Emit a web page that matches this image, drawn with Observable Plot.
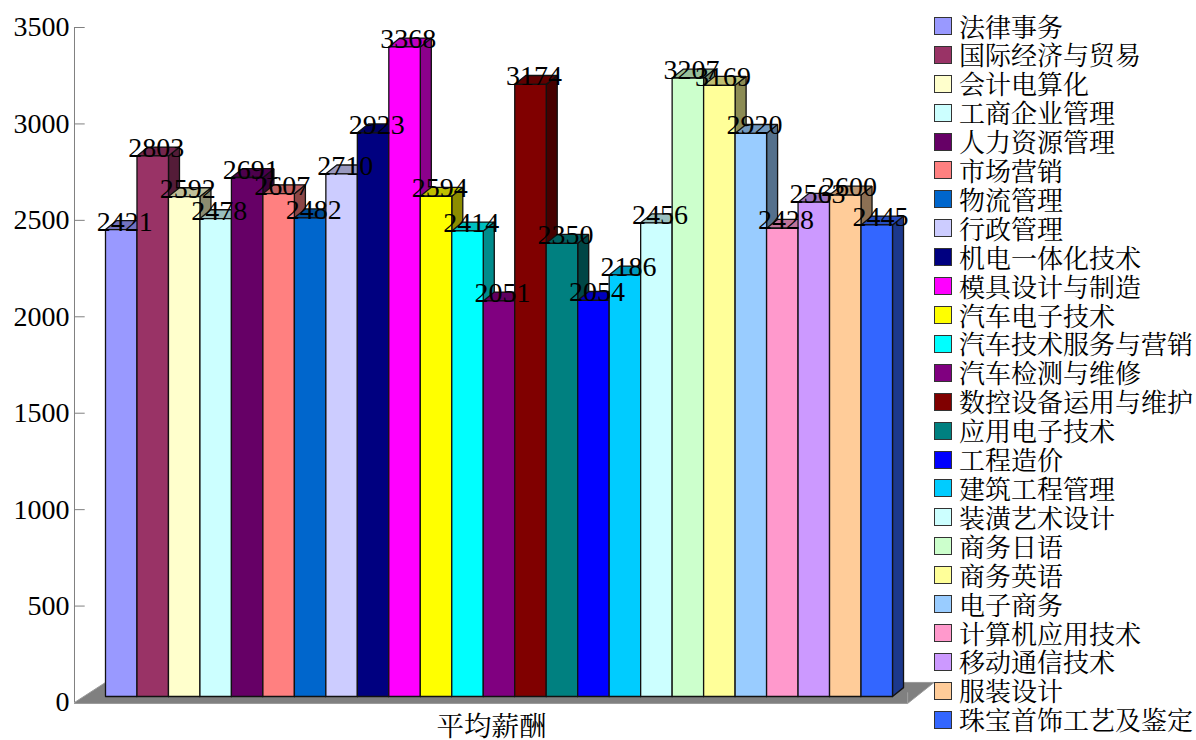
<!DOCTYPE html>
<html>
<head>
<meta charset="utf-8">
<script src="https://cdn.jsdelivr.net/npm/d3@7"></script>
<script src="https://cdn.jsdelivr.net/npm/@observablehq/plot@0.6"></script>
<style>
html,body{margin:0;padding:0;background:#fff;}
#wrap{position:relative;width:1196px;height:740px;overflow:hidden;}
#legend{position:absolute;left:934px;top:11.5px;font-family:"Noto Serif CJK SC","Noto Sans CJK SC",sans-serif;font-size:26px;color:#000;}
.row{display:flex;align-items:center;height:28.92px;white-space:nowrap;line-height:28.92px;}
.sw{width:16px;height:16px;border:1px solid #333;margin-right:7px;flex:none;}
</style>
</head>
<body>
<div id="wrap"><div id="chart"></div><div id="legend"></div></div>
<script>
const categories = ["法律事务","国际经济与贸易","会计电算化","工商企业管理","人力资源管理","市场营销","物流管理","行政管理","机电一体化技术","模具设计与制造","汽车电子技术","汽车技术服务与营销","汽车检测与维修","数控设备运用与维护","应用电子技术","工程造价","建筑工程管理","装潢艺术设计","商务日语","商务英语","电子商务","计算机应用技术","移动通信技术","服装设计","珠宝首饰工艺及鉴定"];
const values = [2421,2803,2592,2478,2691,2607,2482,2710,2923,3368,2594,2414,2051,3174,2350,2054,2186,2456,3207,3169,2920,2428,2563,2600,2445];
const colors = ["#9999ff","#993366","#ffffcc","#ccffff","#660066","#ff8080","#0066cc","#ccccff","#000080","#ff00ff","#ffff00","#00ffff","#800080","#800000","#008080","#0000ff","#00ccff","#ccffff","#ccffcc","#ffff99","#99ccff","#ff99cc","#cc99ff","#ffcc99","#3366ff"];
const yTicks = [0,500,1000,1500,2000,2500,3000,3500];
const xTitle = "平均薪酬";

// depth of the pseudo-3D extrusion, in data units
const depthX = 0.35, depthY = 46;
const axisX = -0.985;
const shade = (c,k)=>{const r=d3.rgb(c);return d3.rgb(r.r*k,r.g*k,r.b*k).formatHex();};

const faces = [];
const poly = (id,fill,pts)=>pts.concat([pts[0]]).forEach(([x,y])=>faces.push({id,fill,x,y}));
values.forEach((v,i)=>{
  const c = colors[i], d = depthX, h = depthY;
  poly(`s${i}`,shade(c,.55),[[i+1,0],[i+1+d,h],[i+1+d,v+h],[i+1,v]]);
  poly(`t${i}`,shade(c,.75),[[i,v],[i+d,v+h],[i+1+d,v+h],[i+1,v]]);
  poly(`f${i}`,c,[[i,0],[i+1,0],[i+1,v],[i,v]]);
});
const floor = [[axisX,-5],[axisX,0],[0,104],[26.32,104],[25.48,-5],[axisX,-5]].map(([x,y])=>({x,y}));
const labels = values.map((v,i)=>({x:i+.5+depthX/2-.06,y:v,t:String(v)}));

const chart = Plot.plot({
  width:1196,height:740,marginLeft:74,marginTop:27,marginBottom:38,marginRight:263,
  style:{background:"#fff",overflow:"visible"},
  x:{domain:[0,25],range:[105,892],axis:null},
  y:{domain:[0,3500],range:[702,27],axis:null},
  color:{type:"identity"},
  marks:[
    Plot.line(floor,{x:"x",y:"y",fill:"#808080",stroke:"#9a9a9a",strokeWidth:1}),
    Plot.ruleX([25.48],{y1:-5,y2:50,stroke:"#a0a0a0",strokeWidth:1}),
    Plot.ruleX([axisX],{y1:0,y2:3500,stroke:"#808080",strokeWidth:1}),
    Plot.ruleY(yTicks.slice(1),{x1:axisX,x2:axisX+.34,stroke:"#808080",strokeWidth:1}),
    Plot.axisY({ticks:yTicks,tickSize:0,tickPadding:5,tickFormat:d3.format("d"),label:null,fontSize:28,fontFamily:"'Liberation Serif',serif",color:"#000",fill:"#000"}),
    Plot.line(faces,{x:"x",y:"y",z:"id",fill:"fill",dy:-6,stroke:"#111",strokeWidth:1.3,strokeLinejoin:"miter"}),
    Plot.text(labels,{x:"x",y:"y",text:"t",dy:-5,lineAnchor:"bottom",textAnchor:"middle",fontSize:28,fontFamily:"'Liberation Serif',serif",fill:"#000"}),
    Plot.text([xTitle],{x:12.26,y:-130,lineAnchor:"middle",textAnchor:"middle",fontSize:27.5,fontFamily:"'Noto Serif CJK SC','Noto Sans CJK SC',sans-serif",fill:"#000"})
  ]
});
document.getElementById("chart").appendChild(chart);

const lg = d3.select("#legend");
categories.forEach((c,i)=>{
  const r = lg.append("div").attr("class","row");
  r.append("span").attr("class","sw").style("background",colors[i]);
  r.append("span").text(c);
});
</script>
</body>
</html>
